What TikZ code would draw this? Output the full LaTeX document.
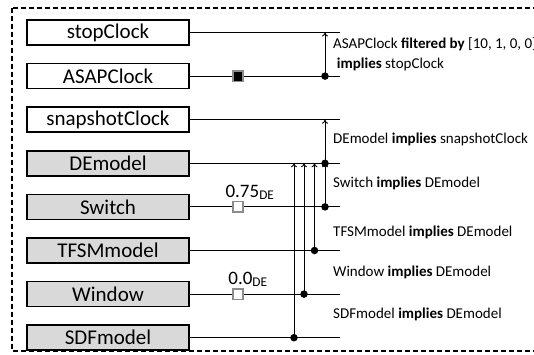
\documentclass[tikz,border=0pt]{standalone}
\usepackage{fontspec}
\setmainfont{Carlito}
\usetikzlibrary{positioning,arrows.meta,calc}

\begin{document}
\begin{tikzpicture}[
    x=1pt, y=-1pt,
    clk/.style={rectangle, draw, line width=1.6pt, minimum height=25pt, minimum width=162pt, inner sep=0pt, font=\fontsize{21}{24}\selectfont, fill=white},
    mdl/.style={clk, fill=black!15},
    wire/.style={line width=1.1pt},
    imp/.style={-{To[length=4pt,width=6pt]}, line width=0.9pt},
    dot/.style={circle, fill=black, inner sep=0pt, minimum size=7.5pt},
    filt/.style={rectangle, draw=black!45, line width=1.6pt, inner sep=0pt, minimum size=10.5pt},
    lbl/.style={font=\fontsize{15}{20}\selectfont, align=left, anchor=west, inner sep=0pt},
    num/.style={font=\fontsize{19}{21}\selectfont, inner sep=1pt},
    frame/.style={line width=1.3pt, dash pattern=on 5pt off 3pt},
    node distance=17pt
]
\useasboundingbox (0,0) rectangle (534,354);

% frame (right side runs off the page)
\draw[frame] (12,8) rectangle (548,351);

% clocks and models
\node[clk] (stop) at (108,32.5) {stopClock};
\node[clk, below=of stop]  (asap)  {ASAPClock};
\node[clk, below=of asap]  (snap)  {snapshotClock};
\node[mdl, below=of snap]  (de)    {DEmodel};
\node[mdl, below=of de]    (sw)    {Switch};
\node[mdl, below=of sw]    (tfsm)  {TFSMmodel};
\node[mdl, below=of tfsm]  (win)   {Window};
\node[mdl, below=of win]   (sdf)   {SDFmodel};

% x positions
\coordinate (xe) at (340,0);   % end of the wires
\coordinate (xf) at (238,0);   % filters
\coordinate (xl) at (333,0);   % relation labels
\coordinate (a1) at (325,0);
\coordinate (a2) at (314.5,0);
\coordinate (a3) at (304,0);
\coordinate (a4) at (294,0);

% wires
\foreach \b in {stop,asap,snap,de,sw,tfsm,win,sdf}
    \draw[wire] (\b.east) -- (\b.east -| xe);

% filters on the wires
\node[filt, fill=black] (fAsap) at (asap.east -| xf) {};
\node[filt, fill=white] (fSw)   at (sw.east -| xf)   {};
\node[filt, fill=white] (fWin)  at (win.east -| xf)  {};
\node[num, above=0pt of fSw, xshift=12pt]  (wSw)  {0.75\textsubscript{DE}};
\node[num, above=0pt of fWin, xshift=10pt] (wWin) {0.0\textsubscript{DE}};

% relation end points
\coordinate (pAsap) at (asap.east -| a1);
\coordinate (tStop) at (stop.east -| a1);
\coordinate (pDe)   at (de.east -| a1);
\coordinate (tSnap) at (snap.east -| a1);
\coordinate (pSw)   at (sw.east -| a1);
\coordinate (pTfsm) at (tfsm.east -| a2);
\coordinate (tDe2)  at (de.east -| a2);
\coordinate (pWin)  at (win.east -| a3);
\coordinate (tDe3)  at (de.east -| a3);
\coordinate (pSdf)  at (sdf.east -| a4);
\coordinate (tDe4)  at (de.east -| a4);

% implications
\draw[imp] (pAsap) -- (tStop);
\draw[imp] (pDe)   -- (tSnap);
\draw[imp] (pSw)   -- (pDe);
\draw[imp] (pTfsm) -- (tDe2);
\draw[imp] (pWin)  -- (tDe3);
\draw[imp] (pSdf)  -- (tDe4);

\foreach \p in {pAsap,pDe,pSw,pTfsm,pWin,pSdf}
    \node[dot] (d\p) at (\p) {};

% relation labels
\node[lbl] (lAsap) at ($(stop.east -| xl)!0.5!(asap.east -| xl)$)
    {ASAPClock \textbf{filtered by} [10, 1, 0, 0]\\\hspace*{0.25em}\textbf{implies} stopClock};
\node[lbl, yshift=2.5pt] (lDe)   at ($(snap.east -| xl)!0.5!(de.east -| xl)$)   {DEmodel \textbf{implies} snapshotClock};
\node[lbl, yshift=2pt]   (lSw)   at ($(de.east -| xl)!0.5!(sw.east -| xl)$)     {Switch \textbf{implies} DEmodel};
\node[lbl, yshift=-4pt]  (lTfsm) at ($(sw.east -| xl)!0.5!(tfsm.east -| xl)$)   {TFSMmodel \textbf{implies} DEmodel};
\node[lbl]               (lWin)  at ($(tfsm.east -| xl)!0.5!(win.east -| xl)$)  {Window \textbf{implies} DEmodel};
\node[lbl, yshift=1.5pt] (lSdf)  at ($(win.east -| xl)!0.5!(sdf.east -| xl)$)   {SDFmodel \textbf{implies} DEmodel};

\end{tikzpicture}
\end{document}
